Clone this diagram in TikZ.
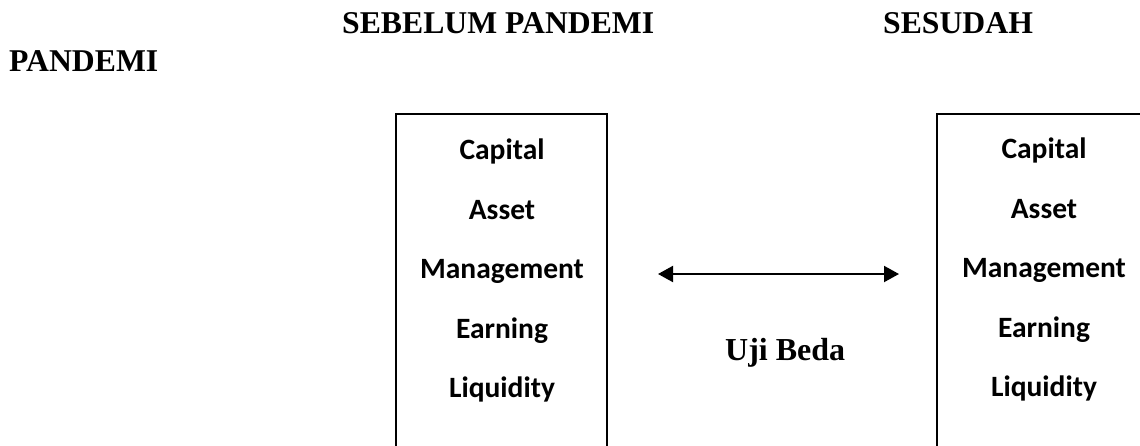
\documentclass[tikz,border=0pt]{standalone}
\usepackage{fontspec}
\setmainfont{Liberation Serif}
\newfontfamily\calfont{Carlito}
\usepackage{tikz}
\usetikzlibrary{arrows.meta}

\tikzset{
  heading/.style={anchor=base west,inner sep=0pt,font=\bfseries\fontsize{31.7}{38}\selectfont},
  ratio/.style={anchor=base,inner sep=0pt,font=\calfont\bfseries\fontsize{29.5}{35}\selectfont},
  panel/.style={draw,line width=2pt}
}

\begin{document}
\begin{tikzpicture}[x=1pt,y=-1pt]
\clip (0,0) rectangle (1140,445);

% Headings
\node[heading] (sebelum) at (342,33) {SEBELUM PANDEMI};
\node[heading] (sesudah) at (883,33) {SESUDAH};
\node[heading] (pandemi) at (9,71) {PANDEMI};

% Boxes
\draw[panel] (396,470) -- (396,114) -- (607,114) -- (607,470);
\draw[panel] (937,470) -- (937,114) -- (1160,114) -- (1160,470);

% Ratios
\foreach \name/\txt [count=\i from 0] in {cap/Capital,ast/Asset,mgt/Management,ern/Earning,liq/Liquidity}{
  \node[ratio] (\name L) at (502,159.5+59.5*\i) {\txt};
  \node[ratio] (\name R) at (1044,158.5+59.5*\i) {\txt};
}

% Arrow
\coordinate (arrL) at (658,274);
\coordinate (arrR) at (899,274);
\draw[{Triangle[length=15pt,width=16pt]}-{Triangle[length=15pt,width=16pt]},line width=2pt] (arrL) -- (arrR);
\node[heading,font=\bfseries\fontsize{32}{38}\selectfont] (uji) at (725,360) {Uji Beda};
\end{tikzpicture}
\end{document}
